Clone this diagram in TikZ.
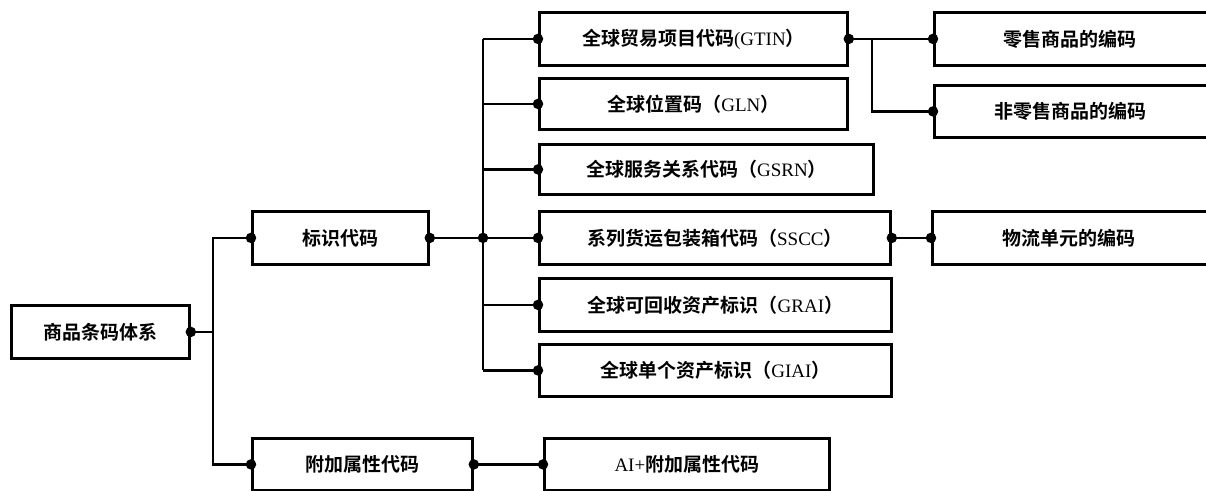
\documentclass[tikz,border=0pt]{standalone}
\usepackage{fontspec}
\setmainfont{Liberation Serif}
\newfontfamily\cj{Noto Sans CJK SC Bold}
\begin{document}
\begin{tikzpicture}[x=1pt,y=-1pt,
  box/.style={draw,line width=2.8pt,inner sep=0pt,anchor=north west,font=\fontsize{19}{21}\selectfont},
  conn/.style={line width=2.6pt},
  jdot/.style={circle,fill=black,inner sep=0pt,minimum size=10.5pt}]
\useasboundingbox (0,0) rectangle (1206,490);
\clip (0,0) rectangle (1206,490);
\newcommand{\bx}[7]{\node[box,minimum width=#4-#3,minimum height=#6-#5] (#1) at (#3,#5) {#7};}
\bx{root}{}{10}{188}{304}{357}{\cj 商品条码体系}
\bx{bsdm}{}{251}{427}{210}{263}{\cj 标识代码}
\bx{fj}{}{251}{471}{437}{489}{\cj 附加属性代码}
\bx{ai}{}{543}{828}{437}{489}{AI+{\cj 附加属性代码}}
\bx{gtin}{}{538}{846}{11}{64}{{\cj 全球贸易项目代码}(GTIN{\cj ）}}
\bx{gln}{}{538}{846}{77}{128}{{\cj 全球位置码}{\cj （}GLN{\cj ）}}
\bx{gsrn}{}{538}{872}{143}{193}{{\cj 全球服务关系代码}{\cj （}GSRN{\cj ）}}
\bx{sscc}{}{538}{889}{210}{263}{{\cj 系列货运包装箱代码}{\cj （}SSCC{\cj ）}}
\bx{grai}{}{538}{890}{277}{330}{{\cj 全球可回收资产标识}{\cj （}GRAI{\cj ）}}
\bx{giai}{}{538}{890}{343}{395}{{\cj 全球单个资产标识}{\cj （}GIAI{\cj ）}}
\bx{ls}{}{933}{1215}{11}{64}{\hspace*{-10pt}\cj 零售商品的编码}
\bx{fls}{}{933}{1215}{84}{136}{\hspace*{-10pt}\cj 非零售商品的编码}
\bx{wl}{}{931}{1215}{210}{263}{\hspace*{-10pt}\cj 物流单元的编码}
% coordinates
\coordinate (b1t) at (213,0);
\coordinate (b2) at (483,0);
\coordinate (b3) at (872,0);
% root bus
\draw[conn] (root.east) -- (root.east -| b1t) |- (bsdm.west);
\draw[conn] (root.east -| b1t) |- (fj.west);
% bsdm bus
\draw[conn] (bsdm.west -| bsdm.east) -- (sscc.west);
\draw[conn] (gtin.west -| b2) -- (giai.west -| b2);
\foreach \n in {gtin,gln,gsrn,grai,giai} \draw[conn] (\n.west -| b2) -- (\n.west);
% gtin
\draw[conn] (gtin.east) -- (ls.west);
\draw[conn] (gtin.east -| b3) |- (fls.west);
\draw[conn] (sscc.east) -- (wl.west);
\draw[conn] (fj.east) -- (ai.west);
% dots
\foreach \p in {root.east,bsdm.west,fj.west,fj.east,ai.west,gtin.west,gln.west,gsrn.west,sscc.west,grai.west,giai.west,gtin.east,ls.west,fls.west,sscc.east,wl.west}
  \node[jdot] at (\p) {};
\node[jdot] at (bsdm.east) {};
\node[jdot] at (sscc.west -| b2) {};
\end{tikzpicture}
\end{document}
